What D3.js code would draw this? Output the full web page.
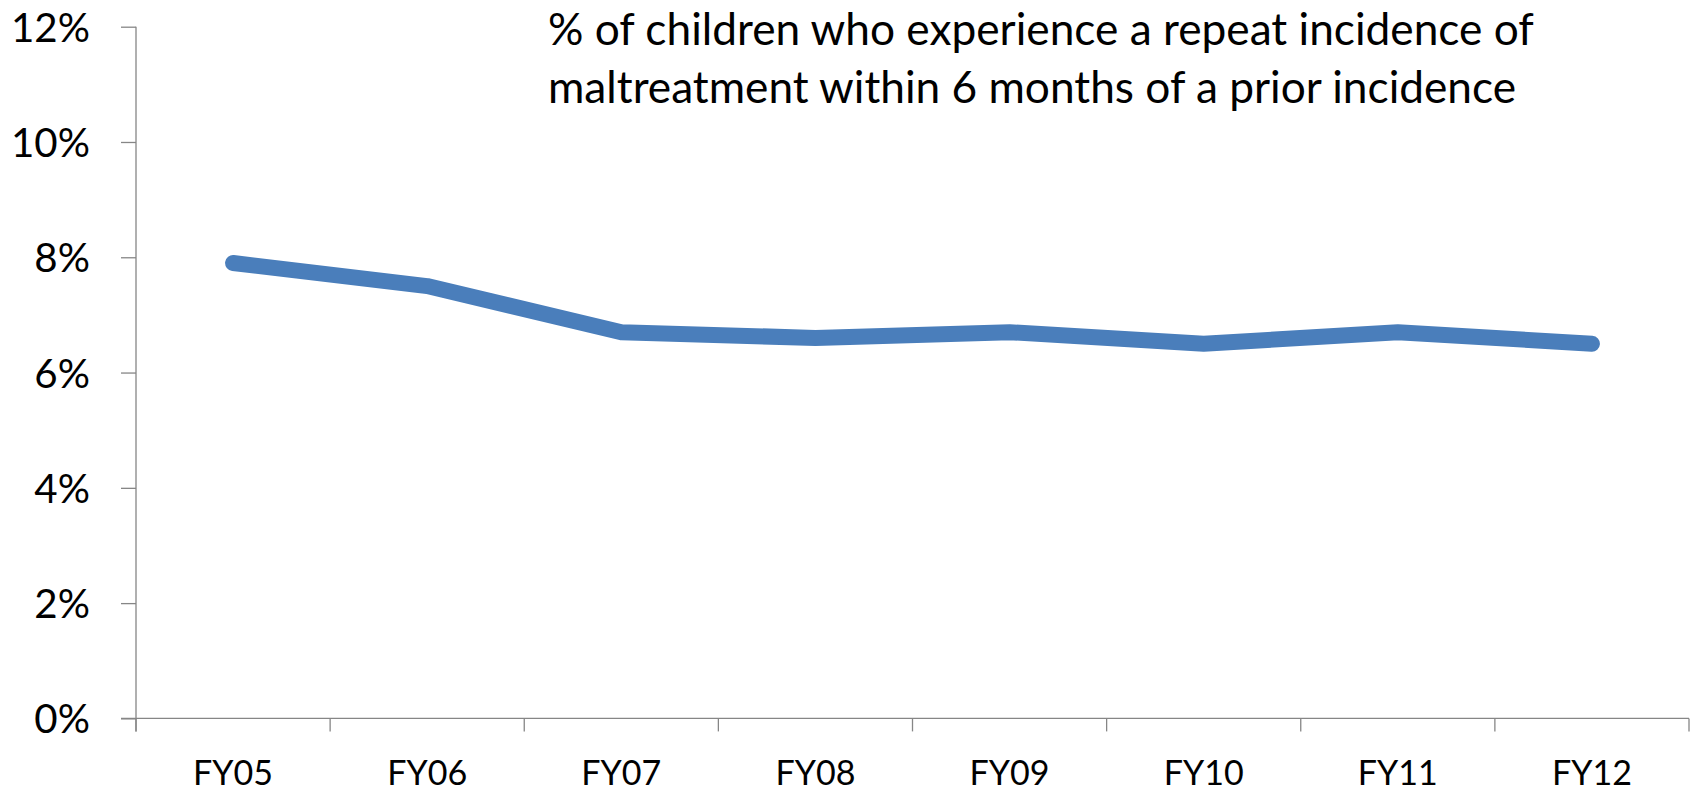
<!DOCTYPE html>
<html>
<head>
<meta charset="utf-8">
<script src="https://cdn.jsdelivr.net/npm/d3@7"></script>
<style>
  html, body { margin: 0; padding: 0; background: #fff; }
  svg { display: block; }
  text { font-family: Lato, "Open Sans", sans-serif; fill: #000; }
</style>
</head>
<body>
<svg id="chart" width="1694" height="791"></svg>
<script>
const categories = ["FY05", "FY06", "FY07", "FY08", "FY09", "FY10", "FY11", "FY12"];
const repeatRate = [0.079, 0.075, 0.067, 0.066, 0.067, 0.065, 0.067, 0.065];
const yTicks = [0, 0.02, 0.04, 0.06, 0.08, 0.10, 0.12];
const titleLines = [
  "% of children who experience a repeat incidence of",
  "maltreatment within 6 months of a prior incidence"
];

const W = 1694, H = 791;
const plot = { left: 136, right: 1689, top: 26.7, bottom: 718.4 };
const axisColor = "#868686";
const lineColor = "#4A7EBB";

const svg = d3.select("#chart");

const x = d3.scaleBand().domain(categories).range([plot.left, plot.right]).padding(0);
const y = d3.scaleLinear().domain([0, 0.12]).range([plot.bottom, plot.top]);

// helper: fit font size so a sample string reaches a target width
function fitSize(sample, targetWidth, base) {
  const t = svg.append("text").attr("font-size", base).text(sample);
  const w = t.node().getComputedTextLength();
  t.remove();
  return base * targetWidth / w;
}

const ySize = fitSize("12%", 79, 40);
const xSize = fitSize("FY05", 80, 40);
const tSize = fitSize(titleLines[0], 986, 40);

// Y axis
const yAxis = d3.axisLeft(y)
  .tickValues(yTicks)
  .tickFormat(d3.format(".0%"))
  .tickSize(15)
  .tickPadding(31);
const gy = svg.append("g")
  .attr("transform", `translate(${plot.left},0)`)
  .call(yAxis);
gy.select(".domain").attr("stroke", axisColor).attr("stroke-width", 1.3)
  .attr("d", `M0,${plot.top}H0V${plot.bottom + 13}`);
gy.selectAll(".tick line").attr("stroke", axisColor).attr("stroke-width", 1.3);
gy.selectAll(".tick text")
  .attr("font-size", ySize)
  .attr("font-family", "Lato, 'Open Sans', sans-serif")
  .attr("fill", "#000")
  .attr("dy", "0.36em");

// X axis (labels at band centres, ticks at band boundaries)
const xAxis = d3.axisBottom(x).tickSize(0).tickPadding(0);
const gx = svg.append("g")
  .attr("transform", `translate(0,${plot.bottom})`)
  .call(xAxis);
gx.select(".domain").attr("stroke", axisColor).attr("stroke-width", 1.3)
  .attr("d", `M${plot.left - 15},0H${plot.right}`);
gx.selectAll(".tick text")
  .attr("font-size", xSize)
  .attr("font-family", "Lato, 'Open Sans', sans-serif")
  .attr("fill", "#000")
  .attr("y", 67)
  .attr("dy", 0);

const boundaries = categories.map(c => x(c)).concat([x.range()[1]]);
gx.selectAll(".bound")
  .data(boundaries)
  .join("line")
  .attr("class", "bound")
  .attr("x1", d => d).attr("x2", d => d)
  .attr("y1", 0).attr("y2", 13)
  .attr("stroke", axisColor).attr("stroke-width", 1.3);

// Line
const line = d3.line()
  .x((d, i) => x(categories[i]) + x.bandwidth() / 2)
  .y(d => y(d));
svg.append("path")
  .datum(repeatRate)
  .attr("d", line)
  .attr("fill", "none")
  .attr("stroke", lineColor)
  .attr("stroke-width", 16)
  .attr("stroke-linecap", "round")
  .attr("stroke-linejoin", "round");

// Title
const title = svg.append("text")
  .attr("x", 548)
  .attr("y", 45)
  .attr("font-size", tSize);
title.selectAll("tspan")
  .data(titleLines)
  .join("tspan")
  .attr("x", 548)
  .attr("dy", (d, i) => i === 0 ? 0 : 58)
  .text(d => d);
</script>
</body>
</html>
